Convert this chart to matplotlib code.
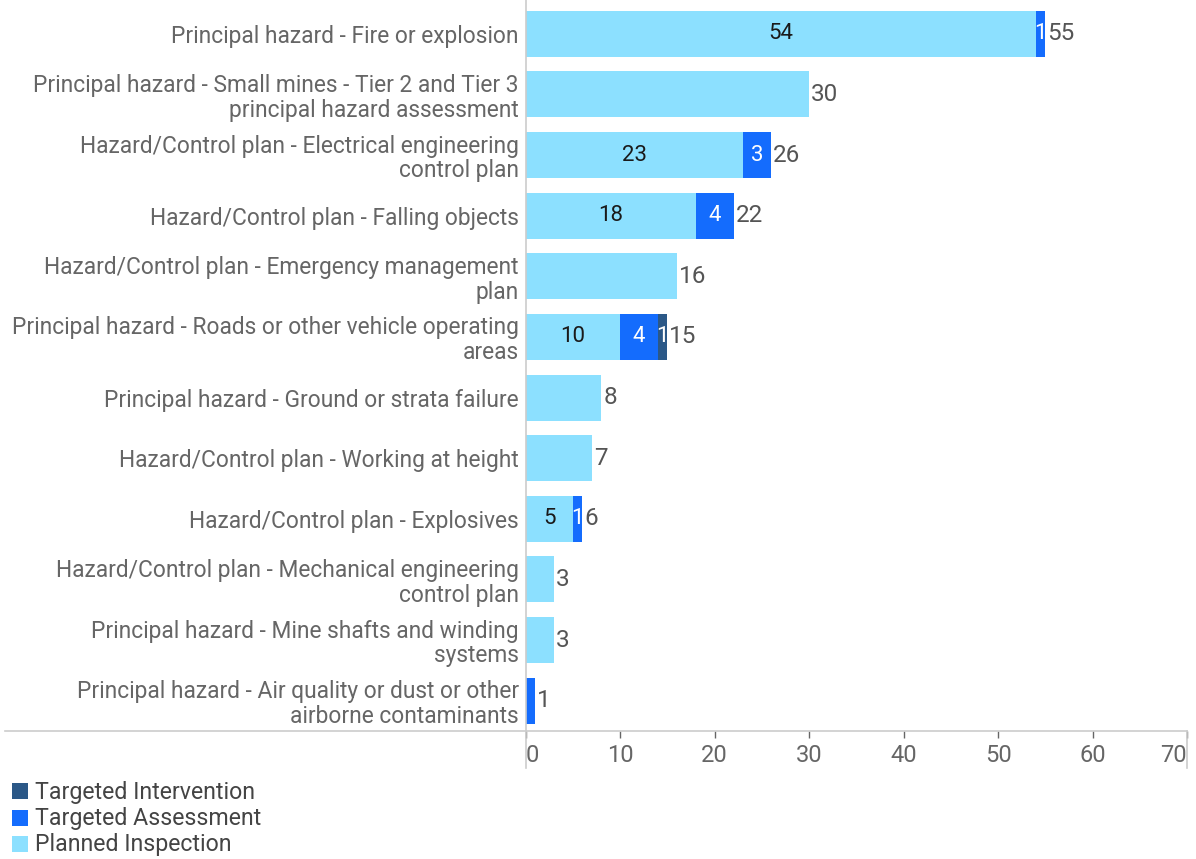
import matplotlib.pyplot as plt
from matplotlib.lines import Line2D
from matplotlib.patches import Rectangle

plt.rcParams['font.family'] = ['Roboto', 'DejaVu Sans']

categories = [
    "Principal hazard - Fire or explosion",
    "Principal hazard - Small mines - Tier 2 and Tier 3\nprincipal hazard assessment",
    "Hazard/Control plan - Electrical engineering\ncontrol plan",
    "Hazard/Control plan - Falling objects",
    "Hazard/Control plan - Emergency management\nplan",
    "Principal hazard - Roads or other vehicle operating\nareas",
    "Principal hazard - Ground or strata failure",
    "Hazard/Control plan - Working at height",
    "Hazard/Control plan - Explosives",
    "Hazard/Control plan - Mechanical engineering\ncontrol plan",
    "Principal hazard - Mine shafts and winding\nsystems",
    "Principal hazard - Air quality or dust or other\nairborne contaminants",
]
planned = [54, 30, 23, 18, 16, 10, 8, 7, 5, 3, 3, 0]
assessment = [1, 0, 3, 4, 0, 4, 0, 0, 1, 0, 0, 1]
intervention = [0, 0, 0, 0, 0, 1, 0, 0, 0, 0, 0, 0]
legend_names = ['Targeted Intervention', 'Targeted Assessment', 'Planned Inspection']

c_planned = '#8CE0FF'
c_assess = '#146CFD'
c_interv = '#2B5887'

W, H = 1196, 859
fig = plt.figure(figsize=(W / 100, H / 100), dpi=100)
ax = fig.add_axes([525.7 / W, 1 - 731 / H, (1187 - 525.7) / W, (731 - 3.5) / H])

y = list(range(len(categories)))
h = 0.76
series = [(planned, c_planned, '#1a1a1a'),
          (assessment, c_assess, 'white'),
          (intervention, c_interv, 'white')]

for i in y:
    left = 0
    n_parts = sum(1 for vals, _, _ in series if vals[i] > 0)
    for vals, col, tcol in series:
        v = vals[i]
        if v <= 0:
            continue
        ax.barh(i, v, left=left, height=h, color=col, edgecolor='none')
        if n_parts > 1:
            ax.text(left + v / 2, i, str(v), ha='center', va='center',
                    fontsize=16, color=tcol)
        left += v
    ax.text(left + 0.2, i, str(left), ha='left', va='center',
            fontsize=17.5, color='#555555')

ax.set_ylim(len(categories) - 0.5, -0.5)
ax.set_xlim(0, 70)
ax.set_yticks(y)
ax.set_yticklabels(categories, fontsize=16.4, color='#666666', linespacing=1.1)
ax.tick_params(axis='y', length=0, pad=5)

ax.set_xticks(range(0, 71, 10))
ax.set_xticklabels([str(t) for t in range(0, 71, 10)], fontsize=17, color='#666666')
ax.tick_params(axis='x', length=5, width=1, color='#666666', pad=4)
xl = ax.get_xticklabels()
xl[0].set_ha('left')
xl[-1].set_ha('right')

for s in ['top', 'right', 'bottom', 'left']:
    ax.spines[s].set_visible(False)

# axis frame lines in figure pixels
lc = '#cccccc'
fig.add_artist(Line2D([5 / W, 1187 / W], [1 - 731 / H] * 2, color=lc, lw=1.2))
fig.add_artist(Line2D([525.7 / W] * 2, [1, 1 - 768 / H], color=lc, lw=1.2))
fig.add_artist(Line2D([1187 / W] * 2, [1 - 731 / H, 1 - 768 / H], color=lc, lw=1.2))

# legend drawn by hand at the bottom left
for k, (name, col) in enumerate(zip(legend_names, [c_interv, c_assess, c_planned])):
    cy = 791 + k * 26.5
    fig.add_artist(Rectangle((12 / W, 1 - (cy + 8) / H), 16 / W, 16 / H,
                             facecolor=col, edgecolor='none'))
    fig.text(35 / W, 1 - (cy + 1) / H, name, ha='left', va='center',
             fontsize=16.7, color='#444444')

fig.savefig('out.png', dpi=100)
